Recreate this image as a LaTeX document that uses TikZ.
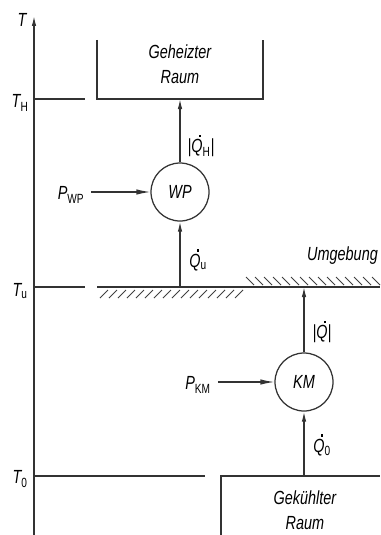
\documentclass[tikz,border=0pt]{standalone}
\usepackage{fontspec}
\setmainfont{Liberation Sans}[FakeStretch=0.76]
\usetikzlibrary{arrows.meta}
\newcommand{\ix}[1]{\textsubscript{\upshape #1}}
\newcommand{\Qd}{\ooalign{\hidewidth\raisebox{0.82em}{\rule{0.12em}{0.12em}}\kern-0.3em\hidewidth\cr Q\cr}}

\begin{document}
\begin{tikzpicture}[x=1pt, y=-1pt,
  line/.style={line width=1.25pt, draw=black!80},
  arr/.style={line, -{Latex[length=10pt,width=4.5pt]}},
  bigarr/.style={line, -{Latex[length=14pt,width=5.5pt]}},
  hatch/.style={line width=1pt, draw=black!75},
  lbl/.style={font=\fontsize{19}{25}\selectfont\itshape, inner sep=0pt},
  machine/.style={circle, line, minimum size=58pt, inner sep=0pt,
                  font=\fontsize{19}{20}\selectfont\itshape}]
  \useasboundingbox (0,0) rectangle (380,535);
  % temperature axis
  \coordinate (ax0) at (34,535);
  \coordinate (ax1) at (34,16);
  \draw[arr] (ax0) -- (ax1);
  \node[lbl] (tT) at (22,20) {T};
  \node[lbl] (tH) at (20,103) {T\ix{H}};
  \node[lbl] (tU) at (20,291) {T\ix{u}};
  \node[lbl] (t0) at (20,479) {T\ix{0}};
  % levels
  \draw[line] (34,99) -- (85,99);
  \draw[line] (34,287) -- (85,287);
  \draw[line] (97,287) -- (380,287);
  \draw[line] (34,476) -- (205,476);
  \foreach \x in {100,109,...,236} \draw[hatch] (\x,298) -- (\x+8,290);
  \foreach \x in {246,255,...,372} \draw[hatch] (\x,277) -- (\x+8,285);
  \node[lbl, anchor=west] (umg) at (307,256) {Umgebung};
  % heated room
  \draw[line] (97,40) -- (97,99) -- (263,99) -- (263,40);
  \node[lbl, align=center] (room1) at (180,64) {Geheizter\\Raum};
  % cooled room
  \draw[line] (221,535) -- (221,476) -- (380,476);
  \node[lbl, align=center] (room0) at (305,510) {Gekühlter\\Raum};
  % heat pump
  \node[machine] (wp) at (180,192) {WP};
  \coordinate (wpH) at (180,99);
  \coordinate (wpU) at (180,287);
  \draw[arr] (wpU) -- (wp);
  \draw[arr] (wp) -- (wpH);
  \node[lbl] (pwp) at (71,195) {P\ix{WP}};
  \draw[bigarr, shorten <=7pt] (pwp.east |- wp) -- (wp.west);
  \node[lbl] (qh) at (201,146) {|\Qd\ix{H}|};
  \node[lbl] (qu) at (198,260) {\Qd\ix{u}};
  % refrigerating machine
  \node[machine] (km) at (304,382) {KM};
  \coordinate (kmU) at (304,287);
  \coordinate (km0) at (304,476);
  \draw[arr] (km0) -- (km);
  \draw[arr] (km) -- (kmU);
  \node[lbl] (pkm) at (198,385) {P\ix{KM}};
  \draw[bigarr, shorten <=7pt] (pkm.east |- km) -- (km.west);
  \node[lbl] (qq) at (322,332) {|\Qd|};
  \node[lbl] (q0) at (322,445) {\Qd\ix{0}};
\end{tikzpicture}
\end{document}
